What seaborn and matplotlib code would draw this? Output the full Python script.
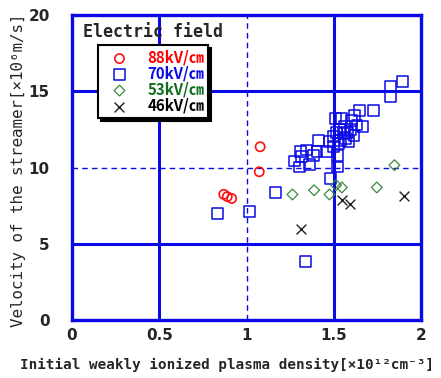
import matplotlib
matplotlib.use("Agg")
import matplotlib.pyplot as plt
import seaborn as sns
import pandas as pd

# Streamer velocity vs. initial weakly ionized plasma density, by electric field
density_88 = [0.87, 0.89, 0.915, 1.073, 1.078]
velocity_88 = [8.25, 8.1, 7.98, 9.73, 11.37]

density_70 = [0.834, 1.017, 1.168, 1.336, 1.483, 1.521, 1.521, 1.275, 1.302, 1.361,
              1.311, 1.345, 1.403, 1.414, 1.460, 1.475, 1.498, 1.517, 1.540, 1.559,
              1.578, 1.597, 1.616, 1.508, 1.546, 1.603, 1.645, 1.727, 1.664, 1.826,
              1.826, 1.895, 1.536, 1.565, 1.584, 1.498, 1.632, 1.384, 1.317, 1.555,
              1.527, 1.618]
velocity_70 = [7.00, 7.10, 8.35, 3.83, 9.29, 10.05, 10.78, 10.43, 10.05, 10.21,
               11.04, 11.15, 11.04, 11.80, 11.04, 11.69, 12.02, 12.28, 12.50, 12.72,
               12.28, 12.50, 12.13, 13.22, 13.22, 13.11, 13.77, 13.77, 12.72, 14.64,
               15.34, 15.67, 11.80, 11.91, 11.69, 11.37, 12.79, 10.82, 10.71, 12.24,
               11.58, 13.44]

density_53 = [1.263, 1.387, 1.475, 1.513, 1.546, 1.746, 1.847]
velocity_53 = [8.24, 8.52, 8.24, 8.85, 8.70, 8.70, 10.16]

density_46 = [1.311, 1.546, 1.590, 1.899]
velocity_46 = [5.95, 7.87, 7.60, 8.13]

field_labels = ["88kV/㎝", "70kV/㎝", "53kV/㎝", "46kV/㎝"]
x_ticks = [0, 0.5, 1, 1.5, 2]
y_ticks = [0, 5, 10, 15, 20]

BLUE = "#0a0ae6"

sns.set_style("white")
plt.rcParams["font.family"] = ["DejaVu Sans Mono", "Noto Sans CJK JP"]

fig = plt.figure(figsize=(4.41, 3.78), dpi=100)
ax = fig.add_axes([0.163, 0.153, 0.792, 0.807])

series = [
    (density_88, velocity_88, dict(marker="o", s=44, facecolor="none", edgecolor="#ff1010", linewidth=1.2), "#ff0000"),
    (density_70, velocity_70, dict(marker="s", s=60, facecolor="none", edgecolor=BLUE, linewidth=1.1), BLUE),
    (density_53, velocity_53, dict(marker="D", s=30, facecolor="none", edgecolor="#3a8a3a", linewidth=0.9), "#0f6e1e"),
    (density_46, velocity_46, dict(marker="x", s=50, color="#202020", linewidth=1.0), "#000000"),
]

for (xs, ys, style, _), lab in zip(series, field_labels):
    df = pd.DataFrame({"density": xs, "velocity": ys})
    sns.scatterplot(data=df, x="density", y="velocity", ax=ax, label=lab, zorder=3, **style)

ax.set_xlim(0, 2)
ax.set_ylim(0, 20)
ax.set_xticks(x_ticks)
ax.set_xticklabels(["0", "0.5", "1", "1.5", "2"])
ax.set_yticks(y_ticks)
ax.tick_params(length=0)
ax.tick_params(axis="x", pad=6)
ax.tick_params(axis="y", pad=16)
for t in ax.get_xticklabels() + ax.get_yticklabels():
    t.set_fontfamily("Liberation Sans Narrow")
    t.set_fontweight("bold")
    t.set_fontsize(11)

# grid: solid at the half-scale lines, dashed at the midlines
for v in (0.5, 1.5):
    ax.axvline(v, color=BLUE, lw=2.2, zorder=1)
for v in (5, 15):
    ax.axhline(v, color=BLUE, lw=2.2, zorder=1)
ax.axvline(1.0, color=BLUE, lw=1.0, ls=(0, (4, 3)), zorder=1)
ax.axhline(10.0, color=BLUE, lw=1.0, ls=(0, (4, 3)), zorder=1)

for sp in ax.spines.values():
    sp.set_color(BLUE)
    sp.set_linewidth(2.4)

ax.set_xlabel("Initial weakly ionized plasma density[×10¹²cm⁻³]",
              fontsize=10.3, fontweight="bold")
ax.xaxis.set_label_coords(0.444, -0.125)
ax.set_ylabel("Velocity of the streamer[×10⁶m/s]", fontsize=11.4)
ax.yaxis.set_label_coords(-0.13, 0.49)

ax.text(0.033, 0.945, "Electric field", transform=ax.transAxes,
        fontsize=12, fontweight="bold", va="center", ha="left")

leg = ax.legend(loc="upper left", bbox_to_anchor=(0.074, 0.902), frameon=True,
                fancybox=False, shadow={"color": "black", "alpha": 1.0, "ox": 2, "oy": -2},
                edgecolor="black", framealpha=1, borderpad=0.3, borderaxespad=0,
                labelspacing=0.0, handletextpad=0.7, handlelength=2.3,
                prop={"family": ["Liberation Sans Narrow", "Noto Sans CJK JP"],
                      "weight": "bold", "size": 10.8})
leg.get_frame().set_linewidth(1.5)
for txt, (_, _, _, c) in zip(leg.get_texts(), series):
    txt.set_color(c)

fig.savefig("out.png", dpi=100)
